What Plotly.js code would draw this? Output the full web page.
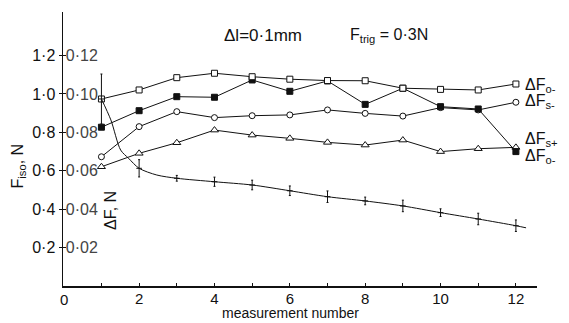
<!DOCTYPE html>
<html><head><meta charset="utf-8">
<script src="https://cdn.plot.ly/plotly-3.0.1.min.js"></script>
<style>body{margin:0;background:#fff}#c{width:569px;height:323px}</style>
</head><body><div id="c"></div>
<script>
const measurement = [1,2,3,4,5,6,7,8,9,10,11,12];
const dFo_open   = [0.974,1.021,1.085,1.108,1.090,1.077,1.070,1.069,1.030,1.024,1.021,1.052];
const dFo_filled = [0.827,0.913,0.986,0.983,1.073,1.014,1.068,0.946,1.030,0.934,0.922,0.700];
const dFs_minus  = [0.673,0.830,0.908,0.877,0.887,0.891,0.917,0.899,0.885,0.929,0.917,0.957];
const dFs_plus   = [0.621,0.691,0.746,0.812,0.786,0.769,0.748,0.734,0.760,0.700,0.715,0.722];
const dF_mean    = [0.0974,0.0613,0.0561,0.0543,0.0526,0.0496,0.0465,0.0443,0.0417,0.0382,0.0349,0.0314];
const dF_err     = [0.013,0.0045,0.0015,0.0024,0.0025,0.0025,0.003,0.002,0.003,0.002,0.003,0.003];
const curveX = [1,1.25,1.51,1.72,2,2.47,3,4,5,6,7,8,9,10,11,12,12.27];
const curveY = [0.0974,0.0865,0.0708,0.0665,0.0613,0.0578,0.0561,0.0543,0.0526,0.0496,0.0465,0.0443,0.0417,0.0382,0.0349,0.0314,0.0303];
const leftTicks = [0.2,0.4,0.6,0.8,1.0,1.2];
const leftLabels = ['0·2','0·4','0·6','0·8','1·0','1·2'];
const rightTicks = [0.02,0.04,0.06,0.08,0.10,0.12];
const rightLabels = ['0·02','0·04','0·06','0·08','0·10','0·12'];
const xTicks = [1,2,3,4,5,6,7,8,9,10,11,12];
const xLabels = ['','2','','4','','6','','8','','10','','12'];

const F = '"Liberation Sans", Arial, sans-serif';
const ln = {color:'#111', width:1};
function series(y, sym, size, fill){
  return {x:measurement, y:y, mode:'lines+markers', type:'scatter', line:ln,
    marker:{symbol:sym, size:size, color:fill, line:{color:'#111', width:1}},
    cliponaxis:false, showlegend:false};
}
const traces = [
  {x:curveX, y:curveY, yaxis:'y2', mode:'lines', line:{color:'#111', width:1, shape:'spline', smoothing:0.8}, showlegend:false},
  {x:measurement, y:dF_mean, yaxis:'y2', mode:'markers', marker:{symbol:'line-ew', size:4, line:{color:'#111', width:1}},
    error_y:{type:'data', array:dF_err, visible:true, color:'#111', thickness:1, width:1}, showlegend:false},
  series(dFs_plus, 'triangle-up', 7, '#fff'),
  series(dFs_minus, 'circle', 6, '#fff'),
  series(dFo_filled, 'square', 6, '#111'),
  series(dFo_open, 'square', 6, '#fff')
];
const layout = {
  width:569, height:323, margin:{l:63, r:32, t:12, b:37},
  paper_bgcolor:'#fff', plot_bgcolor:'#fff',
  font:{family:F, size:14, color:'#111'},
  xaxis:{range:[-0.02,12.56], tickvals:xTicks, ticktext:xLabels, ticks:'inside', ticklen:3, tickcolor:'#111',
    showline:true, linecolor:'#111', linewidth:1.5, showgrid:false, zeroline:false, tickfont:{size:15}, ticklabelstandoff:-2},
  yaxis:{range:[0,1.427], tickvals:leftTicks, ticktext:leftLabels, ticks:'outside', ticklen:3, tickcolor:'#111',
    showline:true, linecolor:'#111', linewidth:1.5, showgrid:false, zeroline:false, tickfont:{size:16}},
  yaxis2:{range:[0,0.1427], overlaying:'y', side:'left', tickvals:rightTicks, ticktext:rightLabels,
    ticks:'inside', ticklen:3, tickcolor:'#111', ticklabelposition:'inside', showline:false, showgrid:false, zeroline:false, tickfont:{size:16}},
  annotations:[
    {text:'0', xref:'x', yref:'paper', x:0, y:-0.048, xanchor:'center', yanchor:'middle', showarrow:false, font:{size:15}},
    {text:'measurement number', xref:'paper', yref:'paper', x:0.48, y:-0.135, xanchor:'center', yanchor:'bottom', showarrow:false, font:{size:14}},
    {text:'F<sub>iso</sub>, N', xref:'paper', yref:'paper', x:-0.095, y:0.44, xanchor:'center', yanchor:'middle', textangle:-90, showarrow:false, font:{size:16}},
    {text:'ΔF, N', xref:'paper', yref:'paper', x:0.1, y:0.275, xanchor:'center', yanchor:'middle', textangle:-90, showarrow:false, font:{size:16}},
    {text:'Δl=0·1mm', xref:'x', yref:'paper', x:4.2, y:0.915, xanchor:'left', yanchor:'middle', showarrow:false, font:{size:17}},
    {text:'F<sub>trig</sub> = 0·3N', xref:'x', yref:'paper', x:7.55, y:0.915, xanchor:'left', yanchor:'middle', showarrow:false, font:{size:16}},
    {text:'ΔF<sub>o-</sub>', xref:'paper', yref:'y', x:0.97, y:1.045, xanchor:'left', showarrow:false, font:{size:16}},
    {text:'ΔF<sub>s-</sub>', xref:'paper', yref:'y', x:0.97, y:0.96, xanchor:'left', showarrow:false, font:{size:16}},
    {text:'ΔF<sub>s+</sub>', xref:'paper', yref:'y', x:0.97, y:0.765, xanchor:'left', showarrow:false, font:{size:16}},
    {text:'ΔF<sub>o-</sub>', xref:'paper', yref:'y', x:0.97, y:0.675, xanchor:'left', showarrow:false, font:{size:16}}
  ]
};
Plotly.newPlot('c', traces, layout, {staticPlot:true, displayModeBar:false});
</script></body></html>
